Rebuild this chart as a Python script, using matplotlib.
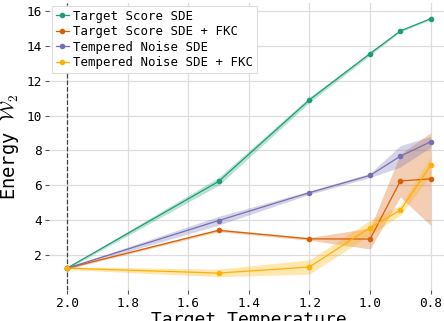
import numpy as np
import matplotlib
matplotlib.use("Agg")
import matplotlib.pyplot as plt

temps = [2.0, 1.5, 1.2, 1.0, 0.9, 0.8]

labels = ["Target Score SDE", "Target Score SDE + FKC",
          "Tempered Noise SDE", "Tempered Noise SDE + FKC"]
colors = ["#1b9e77", "#d95f02", "#7570b3", "#ffb000"]

# mean energy W2 per target temperature
score_sde = [1.25, 6.22, 10.9, 13.55, 14.85, 15.55]
score_fkc = [1.25, 3.42, 2.93, 2.92, 6.25, 6.37]
noise_sde = [1.25, 3.98, 5.58, 6.57, 7.67, 8.5]
noise_fkc = [1.25, 0.97, 1.32, 3.58, 4.57, 7.15]

# lower / upper edge of the shaded spread
score_sde_lo = [1.2, 6.0, 10.75, 13.45, 14.8, 15.5]
score_sde_hi = [1.3, 6.45, 11.05, 13.65, 14.9, 15.6]
score_fkc_lo = [1.2, 3.34, 2.85, 2.35, 5.33, 3.7]
score_fkc_hi = [1.3, 3.5, 3.01, 3.55, 7.8, 9.02]
noise_sde_lo = [1.2, 3.72, 5.48, 6.45, 7.05, 8.18]
noise_sde_hi = [1.3, 4.22, 5.68, 6.69, 8.28, 8.8]
noise_fkc_lo = [1.17, 0.76, 0.91, 3.15, 4.29, 6.6]
noise_fkc_hi = [1.33, 1.2, 1.73, 4.0, 4.86, 7.65]

means = [score_sde, score_fkc, noise_sde, noise_fkc]
lows = [score_sde_lo, score_fkc_lo, noise_sde_lo, noise_fkc_lo]
highs = [score_sde_hi, score_fkc_hi, noise_sde_hi, noise_fkc_hi]

plt.rcParams["font.family"] = ["DejaVu Sans Mono", "DejaVu Sans"]
plt.rcParams["mathtext.fontset"] = "cm"

fig = plt.figure(figsize=(4.44, 3.21), dpi=100)
ax = fig.add_axes([0.110, 0.0966, 0.901, 0.894])

for m, lo, hi, c, lab in zip(means, lows, highs, colors, labels):
    ax.fill_between(temps, lo, hi, color=c, alpha=0.3, lw=0, zorder=2)
    ax.plot(temps, m, color=c, lw=0.9, marker="o", ms=3, label=lab, zorder=3)

ax.axvline(2.0, color="#444444", ls="--", lw=0.9, zorder=1)

ax.set_xlim(2.06, 0.74)
ax.set_ylim(0, 16.45)
ax.set_xticks([2.0, 1.8, 1.6, 1.4, 1.2, 1.0, 0.8])
ax.set_yticks([2, 4, 6, 8, 10, 12, 14, 16])
ax.grid(True, color="#dddddd", lw=0.9)
ax.set_axisbelow(True)
for s in ax.spines.values():
    s.set_visible(False)
ax.tick_params(axis="both", labelsize=9.2, length=3, width=0.8, color="#555555", pad=2)

ax.set_xlabel("Target Temperature", fontsize=13, labelpad=1)
ax.set_ylabel(r"Energy $\mathcal{W}_2$", fontsize=13.5, labelpad=4)

leg = ax.legend(loc="upper left", fontsize=8.9, handlelength=1.1, handletextpad=0.3,
                borderpad=0.3, labelspacing=0.2, borderaxespad=0.25, frameon=True,
                fancybox=False, framealpha=1.0)
leg.get_frame().set_edgecolor("#dddddd")
leg.get_frame().set_linewidth(0.8)

fig.savefig("out.png", dpi=100)
